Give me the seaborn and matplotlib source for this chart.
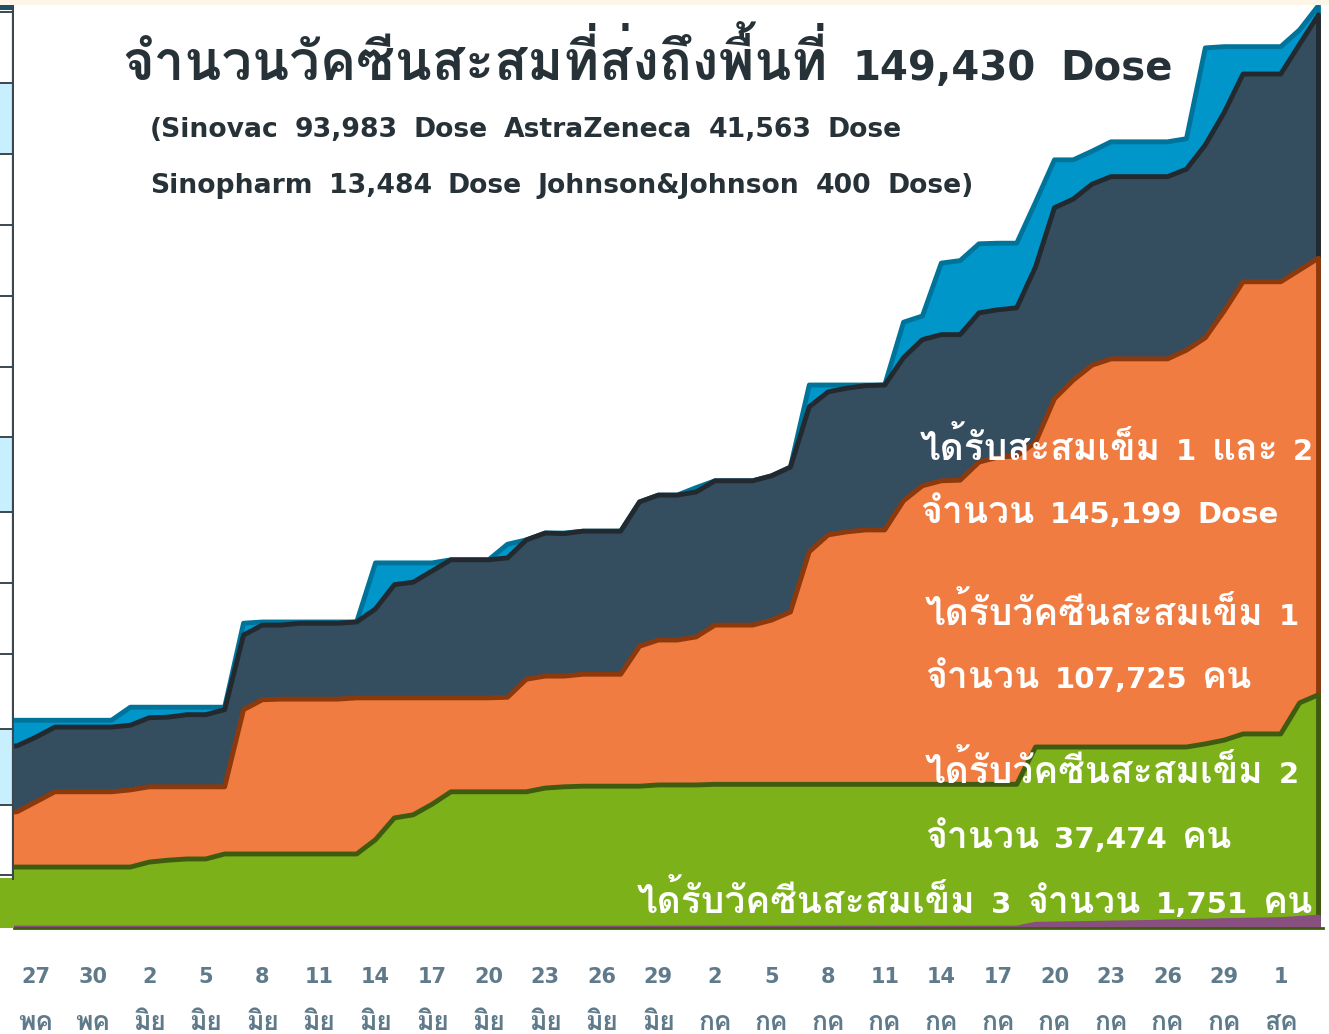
import matplotlib
matplotlib.use("Agg")
import matplotlib.pyplot as plt
from matplotlib import font_manager
from matplotlib.patches import Rectangle
import seaborn as sns
import numpy as np

# days counted from 27 May (0) to 3 Aug (68)
days = np.arange(-2, 69)

delivered = ([33400] * 7 + [35500] * 6 + [49000] + [49200] * 6 + [58700] * 4
             + [59200] * 3 + [61700, 62400, 63500, 63500] + [63800] * 3
             + [68500, 69600, 69600, 70800] + [71900] * 3 + [72700, 74100]
             + [87300] * 5 + [97400, 98400, 106900, 107300, 110000, 110100, 110100,
                              116700, 123500, 123500, 124900] + [126400] * 4
             + [126900, 141500] + [141700] * 4 + [144400, 148300])

dose_1_2 = [29000, 29300, 30700, 32300, 32300, 32300, 32300, 32600, 33800, 33900,
            34300, 34300, 35100, 47100, 48700, 48700, 49000, 49000, 49000, 49200,
            51300, 55200, 55600, 57400, 59200, 59200, 59200, 59500, 62400, 63500,
            63400, 63800, 63800, 63800, 68500, 69600, 69600, 70100, 71900, 71900,
            71900, 72700, 74100, 83800, 86200, 86800, 87200, 87300, 91700, 94600,
            95400, 95400, 98900, 99400, 99700, 106300, 115800, 117200, 119600, 120800,
            120800, 120800, 120800, 122000, 125900, 131100, 137300, 137300, 137300,
            142100, 146800]

dose_1 = ([18400, 18700, 20300] + [21900] * 4 + [22200] + [22700] * 5
          + [35100, 36700] + [36800] * 4 + [37000] * 8 + [37100, 40000, 40500, 40500]
          + [40800] * 3 + [45300, 46300, 46300, 46800] + [48700] * 3
          + [49500, 50800, 60500, 63200, 63700, 64000, 64000, 68700, 71100, 71900,
             72000, 74900, 75700, 75900, 78100, 85100, 88100, 90500] + [91500] * 4
          + [92900, 94900, 99200] + [103900] * 3 + [105800, 107700])

dose_2 = ([9800] * 8 + [10600, 10900, 11100, 11100] + [11900] * 8
          + [14200, 17700, 18200, 19900] + [21900] * 5 + [22500, 22700]
          + [22800] * 4 + [23000] * 3 + [23100] * 17 + [29100] * 9
          + [29600, 30200] + [31200] * 3 + [36200, 37500])

dose_3 = ([0] * 55 + [600, 650, 700, 750, 800, 850, 900, 1000, 1050, 1100, 1200,
                      1250, 1300, 1350, 1550, 1751])

tick_days = list(range(0, 67, 3))
tick_day_labels = ["27", "30", "2", "5", "8", "11", "14", "17", "20", "23", "26", "29",
                   "2", "5", "8", "11", "14", "17", "20", "23", "26", "29", "1"]
tick_months = ["พค", "พค"] + ["มิย"] * 10 + ["กค"] * 10 + ["สค"]

series = [
    (delivered, "#0096ca", "#00739b"),
    (dose_1_2, "#344d5f", "#22292f"),
    (dose_1, "#f07c41", "#8e390c"),
    (dose_2, "#7db11a", "#3f5b10"),
    (dose_3, "#87507f", "#87507f"),
]

sns.set_style("white")

available = {f.name for f in font_manager.fontManager.ttflist}
thai_font = "Loma"
for name in ["Loma", "FreeSerif", "Noto Sans Thai Looped", "Noto Sans Thai"]:
    if name in available:
        thai_font = name
        break
plt.rcParams["font.family"] = ["DejaVu Sans", thai_font]

W, H = 1329, 1034
fig = plt.figure(figsize=(W / 100, H / 100), dpi=100)
fig.patch.set_facecolor("white")

ax = fig.add_axes([14 / W, (H - 928) / H, (1323 - 14) / W, 928 / H])
ax.set_facecolor("white")

z = 1
for values, fill, edge in series:
    ax.fill_between(days, 0, values, color=fill, linewidth=0, zorder=z)
    sns.lineplot(x=days, y=values, ax=ax, color=edge, linewidth=3.5,
                 solid_joinstyle="round", legend=False, zorder=z + 1)
    ax.vlines(days[-1], 0, values[-1], color=edge, linewidth=3.5, zorder=z + 1)
    z += 2

ax.set_xlim(-1.17, 68.24)
ax.set_ylim(0, 149200)
ax.set_yticks([])
ax.set_xticks(days[days >= 0])
ax.set_xticklabels([])
ax.tick_params(axis="x", length=6, width=1.2, color="#c9cfd3", direction="out")
for side in ["top", "right", "left"]:
    ax.spines[side].set_visible(False)
ax.spines["bottom"].set_color("#3f5b10")
ax.spines["bottom"].set_linewidth(2.0)
ax.spines["bottom"].set_zorder(20)

trans = ax.get_xaxis_transform()
for d, num, mon in zip(tick_days, tick_day_labels, tick_months):
    ax.text(d, -0.0593, num, transform=trans, ha="center", va="baseline",
            fontsize=15, fontweight="bold", color="#5f7b8b", clip_on=False)
    ax.text(d, -0.1099, mon, transform=trans, ha="center", va="baseline",
            family=thai_font, fontsize=19, fontweight="bold", color="#5f7b8b",
            clip_on=False)

# cropped y axis strip on the far left
side = fig.add_axes([0, (H - 928) / H, 14 / W, 928 / H])
side.set_xlim(0, 14)
side.set_ylim(928, 0)
side.axis("off")
for y0, y1 in [(83, 154), (437, 512), (729, 805)]:
    side.add_patch(Rectangle((0, y0), 13, y1 - y0, color="#c8effd", lw=0))
side.add_patch(Rectangle((0, 0), 13, 10, color="#1d4f66", lw=0))
side.add_patch(Rectangle((0, 878), 14, 50, color="#7db11a", lw=0))
side.vlines(12.5, 0, 880, color="#3a4750", linewidth=1.6)
side.hlines([12, 83, 154, 225, 296, 367, 437, 512, 583, 654, 729, 805, 875], 0, 12.5,
            color="#3a4750", linewidth=1.4)

# faint strip at the very top
fig.patches.append(Rectangle((0, (H - 5) / H), 1, 5 / H, transform=fig.transFigure,
                             color="#fdf5e6", lw=0, zorder=0))

renderer = fig.canvas.get_renderer()


def is_thai(word):
    return any("\u0e00" <= ch <= "\u0e7f" for ch in word)


def word_row(x, y, text, size, color, gap, thai_size=None):
    # words placed one by one: Thai words drawn larger, wide gaps like the original
    thai_size = thai_size or size * 1.35
    for word in text.split(" "):
        if is_thai(word):
            kw = dict(family=thai_font, fontsize=thai_size)
        else:
            kw = dict(family="DejaVu Sans", fontsize=size)
        t = fig.text(x / W, 1 - y / H, word, fontweight="bold", color=color,
                     va="baseline", zorder=30, **kw)
        x += t.get_window_extent(renderer).width + gap


dark = "#263238"
word_row(122, 80, "จำนวนวัคซีนสะสมที่ส่งถึงพื้นที่ 149,430 Dose", 29, dark, 25)
word_row(150, 137, "(Sinovac 93,983 Dose AstraZeneca 41,563 Dose", 19.2, dark, 16)
word_row(150, 193, "Sinopharm 13,484 Dose Johnson&Johnson 400 Dose)", 19.2, dark, 16)

notes = [
    (920, 460, "ได้รับสะสมเข็ม 1 และ 2"),
    (920, 523, "จำนวน 145,199 Dose"),
    (925, 625, "ได้รับวัคซีนสะสมเข็ม 1"),
    (925, 688, "จำนวน 107,725 คน"),
    (925, 783, "ได้รับวัคซีนสะสมเข็ม 2"),
    (925, 848, "จำนวน 37,474 คน"),
    (637, 913, "ได้รับวัคซีนสะสมเข็ม 3 จำนวน 1,751 คน"),
]
for x, y, s in notes:
    word_row(x, y, s, 21, "white", 15, thai_size=26.8)

fig.savefig("out.png", dpi=100)
